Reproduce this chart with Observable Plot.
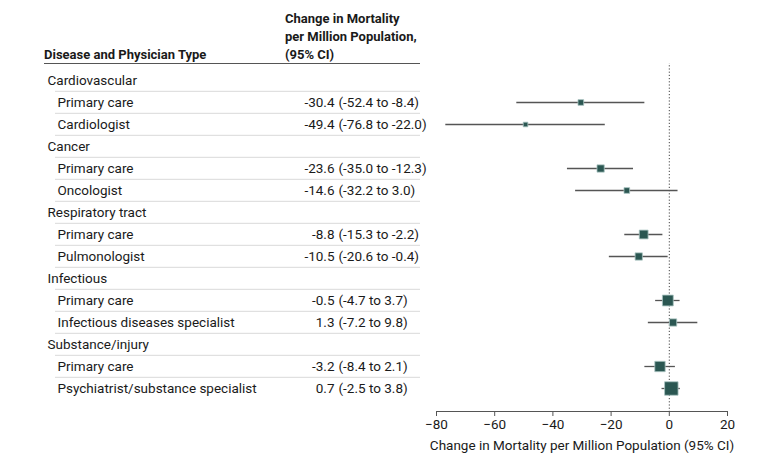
<!DOCTYPE html>
<html><head><meta charset="utf-8">
<script src="https://cdn.jsdelivr.net/npm/d3@7"></script>
<script src="https://cdn.jsdelivr.net/npm/@observablehq/plot@0.6"></script>
<style>
body{margin:0;background:#fff;font-family:Roboto,sans-serif;color:#1a1a1a}
#wrap{position:relative;width:780px;height:465px;overflow:hidden}
#head{position:relative;height:63px;width:780px}
#rule{position:absolute;left:44px;width:376px;top:62.5px;height:1.5px;background:#555}
.h{position:absolute;font-weight:700;font-size:13px;line-height:18px;color:#1a1a1a}
#chart svg{display:block}
</style></head><body>
<div id="wrap">
<div id="head">
 <div class="h" style="left:44px;top:46px">Disease and Physician Type</div>
 <div class="h" style="left:285px;top:10px">Change in Mortality<br>per Million Population,<br>(95% CI)</div>
 <div id="rule"></div>
</div>
<div id="chart"></div>
</div>
<script>
const groups = ["Cardiovascular", "Cancer", "Respiratory tract", "Infectious", "Substance/injury"];
const physician = ["Primary care", "Cardiologist", "Primary care", "Oncologist", "Primary care", "Pulmonologist", "Primary care", "Infectious diseases specialist", "Primary care", "Psychiatrist/substance specialist"];
const groupOf = [0, 0, 1, 1, 2, 2, 3, 3, 4, 4];
const estimate = [-30.4, -49.4, -23.6, -14.6, -8.8, -10.5, -0.5, 1.3, -3.2, 0.7];
const lower = [-52.4, -76.8, -35.0, -32.2, -15.3, -20.6, -4.7, -7.2, -8.4, -2.5];
const upper = [-8.4, -22.0, -12.3, 3.0, -2.2, -0.4, 3.7, 9.8, 2.1, 3.8];
const weight = [30, 20, 49, 30, 72, 49, 110, 49, 100, 169];
const xTicks = [-80, -60, -40, -20, 0, 20];
const xLabel = "Change in Mortality per Million Population (95% CI)";

const fmt = d3.formatLocale({decimal: ".", thousands: ",", grouping: [3], currency: ["", ""], minus: "-"}).format(".1f");
const rows = [];
groups.forEach((g, gi) => {
  rows.push({id: "g" + gi, label: g, group: true});
  physician.forEach((p, i) => {
    if (groupOf[i] !== gi) return;
    rows.push({
      id: "r" + i, label: p, group: false,
      est: estimate[i], lo: lower[i], hi: upper[i], w: weight[i],
      estText: fmt(estimate[i]),
      ciText: `(${fmt(lower[i])} to ${fmt(upper[i])})`
    });
  });
});
const groupRows = rows.filter(d => d.group);
const subs = rows.filter(d => !d.group);

const chart = Plot.plot({
  width: 780, height: 402,
  marginLeft: 436, marginRight: 53, marginTop: 3, marginBottom: 54,
  style: {fontFamily: "Roboto, sans-serif", fontSize: "13.5px", color: "#1a1a1a", background: "#fff"},
  x: {domain: [-80, 20]},
  y: {type: "band", domain: rows.map(d => d.id), axis: null, padding: 0, insetBottom: 8.8},
  r: {type: "sqrt", domain: [0, d3.max(weight)], range: [0, 7.6]},
  marks: [
    Plot.ruleY(rows.slice(1), {y: "id", dy: -11.2, stroke: "#d9d9d9", strokeWidth: 1, insetLeft: -381, insetRight: 307}),
    Plot.ruleX([0], {stroke: "#444", strokeDasharray: "1.2,2", strokeWidth: 1, insetTop: -4}),
    Plot.ruleY(subs, {y: "id", x1: "lo", x2: "hi", stroke: "#555", strokeWidth: 1.3}),
    Plot.dot(subs, {y: "id", x: "est", r: "w", symbol: "square", fill: "#2b5752", stroke: "#a9c4c1", strokeWidth: 0.8}),
    Plot.text(groupRows, {y: "id", text: "label", frameAnchor: "left", textAnchor: "start", dx: -389, fontSize: 13.5}),
    Plot.text(subs, {y: "id", text: "label", frameAnchor: "left", textAnchor: "start", dx: -379, fontSize: 13.5}),
    Plot.text(subs, {y: "id", text: "estText", frameAnchor: "left", textAnchor: "end", dx: -102, fontSize: 13.5}),
    Plot.text(subs, {y: "id", text: "ciText", frameAnchor: "left", textAnchor: "start", dx: -98, fontSize: 13.5}),
    Plot.axisX({ticks: xTicks, tickSize: 5, tickPadding: 3, fontSize: 13.5, stroke: "#555",
      label: xLabel, labelAnchor: "center", labelArrow: "none", labelOffset: 38}),
    Plot.frame({anchor: "bottom", stroke: "#555"})
  ]
});
document.getElementById("chart").append(chart);
</script>
</body></html>
